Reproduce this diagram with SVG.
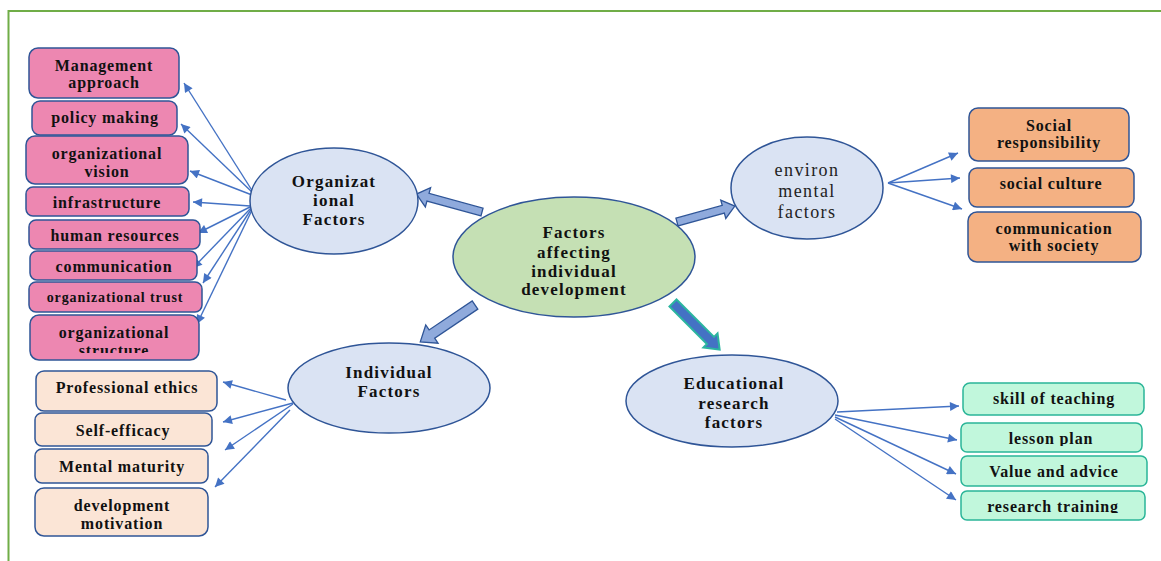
<svg xmlns="http://www.w3.org/2000/svg" width="1161" height="561" viewBox="0 0 1161 561">
<style>
.bt{font-family:"Liberation Serif","Times New Roman",serif;font-weight:bold;font-size:16px;letter-spacing:0.85px;fill:#111;text-anchor:middle}
.st{font-size:14px;letter-spacing:0.9px}
.et{font-family:"Liberation Serif","Times New Roman",serif;font-weight:bold;font-size:17px;letter-spacing:1.2px;fill:#111;text-anchor:middle}
.rt{font-family:"Liberation Serif","Times New Roman",serif;font-size:18px;letter-spacing:1.4px;fill:#222;text-anchor:middle}
.pk{fill:#ed87b1;stroke:#2f5597;stroke-width:1.5}
.pc{fill:#fbe5d6;stroke:#2f5597;stroke-width:1.5}
.or{fill:#f4b183;stroke:#2f5597;stroke-width:1.5}
.gr{fill:#c1f7dc;stroke:#2ab598;stroke-width:1.5}
.el{fill:#dae3f3;stroke:#2f5597;stroke-width:1.5}
.ln{stroke:#4472c4;stroke-width:1.4;fill:none;marker-end:url(#ah)}
.fa{fill:#8faadc;stroke:#2f5597;stroke-width:1.3}
</style>
<defs>
<marker id="ah" viewBox="0 0 10 10" refX="10" refY="5" markerWidth="11" markerHeight="9" markerUnits="userSpaceOnUse" orient="auto">
<path d="M0,0 L10,5 L0,10 z" fill="#4472c4"/>
</marker>
<clipPath id="c1"><rect x="0" y="0" width="1161" height="353"/></clipPath>
<clipPath id="c2"><rect x="0" y="0" width="1161" height="513"/></clipPath>
<clipPath id="c3"><rect x="0" y="0" width="1161" height="446"/></clipPath>
</defs>
<rect x="0" y="0" width="1161" height="561" fill="#fff"/>
<path d="M8.5,561 V11 H1161" fill="none" stroke="#70ad47" stroke-width="2"/>

<g id="connectors">
<line class="ln" x1="253" y1="192" x2="184" y2="83"/>
<line class="ln" x1="253" y1="193" x2="181" y2="124"/>
<line class="ln" x1="252" y1="195" x2="190" y2="171"/>
<line class="ln" x1="250" y1="206" x2="193" y2="202"/>
<line class="ln" x1="250" y1="207" x2="198" y2="233"/>
<line class="ln" x1="251" y1="208" x2="193" y2="268"/>
<line class="ln" x1="252" y1="208" x2="203" y2="283"/>
<line class="ln" x1="253" y1="208" x2="197" y2="324"/>
<line class="ln" x1="286" y1="400" x2="223" y2="382"/>
<line class="ln" x1="293" y1="403" x2="223" y2="422"/>
<line class="ln" x1="293" y1="404" x2="225" y2="450"/>
<line class="ln" x1="290" y1="410" x2="215" y2="487"/>
<line class="ln" x1="888" y1="183" x2="958" y2="153"/>
<line class="ln" x1="888" y1="183" x2="960" y2="178"/>
<line class="ln" x1="888" y1="183" x2="962" y2="209"/>
<line class="ln" x1="837" y1="412" x2="959" y2="406"/>
<line class="ln" x1="835" y1="415" x2="957" y2="440"/>
<line class="ln" x1="835" y1="417" x2="956" y2="474"/>
<line class="ln" x1="835" y1="419" x2="956" y2="500"/>
<polygon class="fa" transform="translate(482,212) rotate(195.3)" points="0,-4 56,-4 56,-10 68,0 56,10 56,4 0,4"/>
<polygon class="fa" transform="translate(677,222) rotate(-15.4)" points="0,-4 48,-4 48,-9.5 60,0 48,9.5 48,4 0,4"/>
<polygon class="fa" transform="translate(475,305) rotate(146)" points="0,-5 52,-5 52,-11 66,0 52,11 52,5 0,5"/>
<polygon transform="translate(673,303) rotate(45)" points="0,-5 53,-5 53,-10 66,0 53,10 53,5 0,5" fill="#4472c4" stroke="#2bb5a0" stroke-width="2"/>
</g>

<g id="central"><ellipse cx="574" cy="257" rx="121" ry="60" fill="#c5e0b4" stroke="#2f5597" stroke-width="1.5"/>
<text class="et" x="574" y="238">Factors</text>
<text class="et" x="574" y="258">affecting</text>
<text class="et" x="574" y="277">individual</text>
<text class="et" x="574" y="295">development</text></g>

<g id="organizational"><ellipse class="el" cx="334" cy="201" rx="84" ry="53"/>
<text class="et" x="334" y="187">Organizat</text>
<text class="et" x="334" y="206">ional</text>
<text class="et" x="334" y="225">Factors</text></g>

<g id="environmental"><ellipse class="el" cx="807" cy="188" rx="76" ry="51"/>
<text class="rt" x="807" y="176">environ</text>
<text class="rt" x="807" y="197">mental</text>
<text class="rt" x="807" y="218">factors</text></g>

<g id="individual"><ellipse class="el" cx="389" cy="388" rx="101" ry="45"/>
<text class="et" x="389" y="378">Individual</text>
<text class="et" x="389" y="397">Factors</text></g>

<g id="educational"><ellipse class="el" cx="732" cy="401" rx="106" ry="46"/>
<text class="et" x="734" y="389">Educational</text>
<text class="et" x="734" y="409">research</text>
<text class="et" x="734" y="428">factors</text></g>

<g id="management"><rect class="pk" x="29" y="48" width="150" height="50" rx="9"/>
<text class="bt" x="104" y="71">Management</text>
<text class="bt" x="104" y="88">approach</text></g>
<g id="policy"><rect class="pk" x="32" y="101" width="145" height="34" rx="8"/>
<text class="bt" x="105" y="123">policy making</text></g>
<g id="vision"><rect class="pk" x="26" y="136" width="162" height="48" rx="9"/>
<text class="bt" x="107" y="159">organizational</text>
<text class="bt" x="107" y="177">vision</text></g>
<g id="infrastructure"><rect class="pk" x="26" y="187" width="163" height="29" rx="7"/>
<text class="bt" x="107" y="208">infrastructure</text></g>
<g id="human"><rect class="pk" x="29" y="220" width="171" height="29" rx="7"/>
<text class="bt" x="115" y="241">human resources</text></g>
<g id="communication"><rect class="pk" x="30" y="251" width="167" height="29" rx="7"/>
<text class="bt" x="114" y="272">communication</text></g>
<g id="trust"><rect class="pk" x="29" y="282" width="173" height="30" rx="7"/>
<text class="bt st" x="115" y="302">organizational trust</text></g>
<g id="structure"><rect class="pk" x="30" y="315" width="169" height="45" rx="9"/>
<text class="bt" x="114" y="338">organizational</text>
<text class="bt" x="114" y="356" clip-path="url(#c1)">structure</text></g>

<g id="ethics"><rect class="pc" x="36" y="371" width="181" height="40" rx="8"/>
<text class="bt" x="127" y="393">Professional ethics</text></g>
<g id="efficacy"><rect class="pc" x="35" y="413" width="177" height="33" rx="7"/>
<text class="bt" x="123" y="436">Self-efficacy</text></g>
<g id="maturity"><rect class="pc" x="35" y="449" width="173" height="34" rx="7"/>
<text class="bt" x="122" y="472">Mental maturity</text></g>
<g id="motivation"><rect class="pc" x="35" y="488" width="173" height="48" rx="9"/>
<text class="bt" x="122" y="511">development</text>
<text class="bt" x="122" y="529">motivation</text></g>

<g id="social-responsibility"><rect class="or" x="969" y="108" width="160" height="53" rx="9"/>
<text class="bt" x="1049" y="131">Social</text>
<text class="bt" x="1049" y="148">responsibility</text></g>
<g id="social-culture"><rect class="or" x="969" y="168" width="165" height="39" rx="8"/>
<text class="bt" x="1051" y="189">social culture</text></g>
<g id="communication-society"><rect class="or" x="968" y="212" width="173" height="50" rx="9"/>
<text class="bt" x="1054" y="234">communication</text>
<text class="bt" x="1054" y="251">with society</text></g>

<g id="skill"><rect class="gr" x="963" y="383" width="181" height="32" rx="7"/>
<text class="bt" x="1054" y="404">skill of teaching</text></g>
<g id="lesson"><rect class="gr" x="961" y="423" width="181" height="29" rx="6"/>
<text class="bt" x="1051" y="444" clip-path="url(#c3)">lesson plan</text></g>
<g id="value"><rect class="gr" x="961" y="456" width="186" height="30" rx="6"/>
<text class="bt" x="1054" y="477">Value and advice</text></g>
<g id="training"><rect class="gr" x="961" y="491" width="184" height="29" rx="6"/>
<text class="bt" x="1053" y="512" clip-path="url(#c2)">research training</text></g>
</svg>
